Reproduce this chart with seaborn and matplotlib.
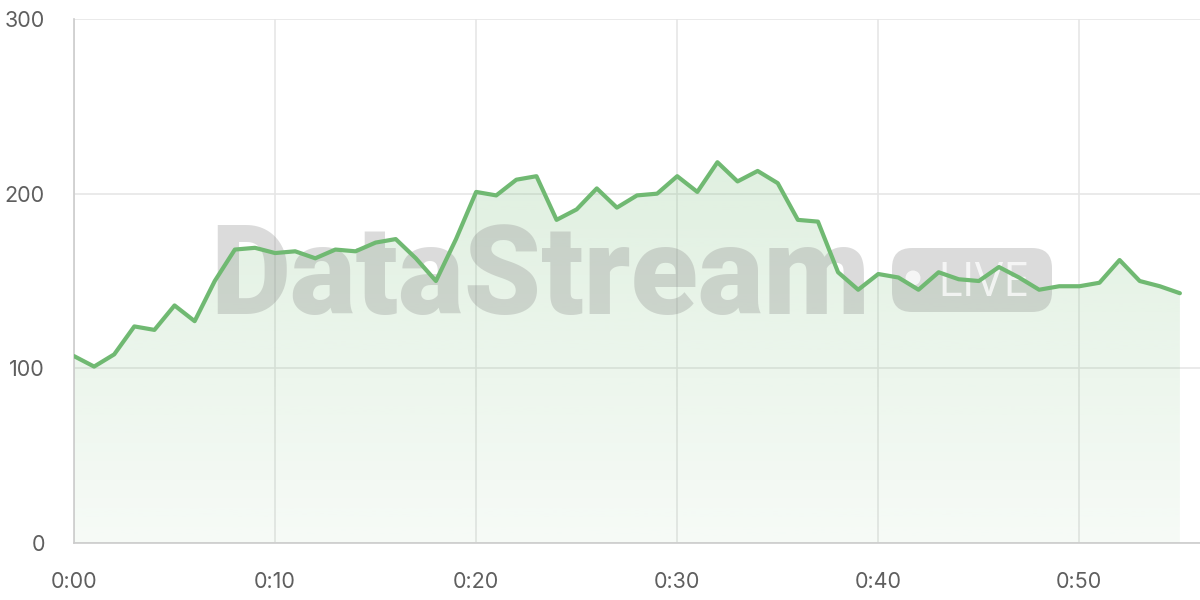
"""Live stream viewer count chart with DataStream watermark."""

import numpy as np
import pandas as pd
import matplotlib

matplotlib.use("Agg")
import matplotlib.pyplot as plt
import seaborn as sns
from matplotlib.patches import FancyBboxPatch, Ellipse

# minutes since start and value per minute
minutes = list(range(56))
values = [
    107, 101, 108, 124, 122, 136, 127, 150, 168, 169,
    166, 167, 163, 168, 167, 172, 174, 163, 150, 174,
    201, 199, 208, 210, 185, 191, 203, 192, 199, 200,
    210, 201, 218, 207, 213, 206, 185, 184, 155, 145,
    154, 152, 145, 155, 151, 150, 158, 152, 145, 147,
    147, 149, 162, 150, 147, 143,
]
x_ticks = [0, 10, 20, 30, 40, 50]
x_tick_labels = ["0:00", "0:10", "0:20", "0:30", "0:40", "0:50"]
y_ticks = [0, 100, 200, 300]

LINE = "#70b972"
W, H = 1200, 600
df = pd.DataFrame({"minute": minutes, "value": values})

sns.set_style("white")
plt.rcParams["font.family"] = ["Inter", "DejaVu Sans"]

fig = plt.figure(figsize=(12, 6), dpi=100)
ax = fig.add_axes([74 / W, 1 - 543 / H, 1126 / W, 524 / H])

# gradient fill under the line
poly = ax.fill_between(df["minute"], df["value"], 0, color="none", lw=0)
top = max(values)
grad = np.zeros((256, 1, 4))
grad[:, 0, :3] = matplotlib.colors.to_rgb(LINE)
grad[:, 0, 3] = np.linspace(0.22, 0.06, 256)
img = ax.imshow(grad, aspect="auto", extent=[0, 55, 0, top], origin="upper", zorder=1)
img.set_clip_path(poly.get_paths()[0], transform=ax.transData)

sns.lineplot(data=df, x="minute", y="value", ax=ax, color=LINE, lw=3, zorder=4)

ax.set_xlim(0, 56)
ax.set_ylim(0, 300)
ax.set_xticks(x_ticks)
ax.set_xticklabels(x_tick_labels)
ax.set_yticks(y_ticks)
ax.set_xlabel("")
ax.set_ylabel("")
ax.grid(True, color="#e6e6e6", lw=1.2)
ax.set_axisbelow(True)
for side in ["top", "right"]:
    ax.spines[side].set_visible(False)
for side in ["left", "bottom"]:
    ax.spines[side].set_color("#cccccc")
    ax.spines[side].set_linewidth(1.2)
ax.tick_params(axis="both", colors="#e6e6e6", length=12, width=1.2,
               labelcolor="#5f5f5f", labelsize=15.5)
ax.tick_params(axis="x", length=9, pad=12)
ax.tick_params(axis="y", length=15, pad=6)

# watermark, drawn under the line
ax.text(540 / W, 1 - 314 / H, "DataStream", fontsize=89, fontweight="heavy",
        color="#8a8a8a", alpha=0.3, ha="center", va="baseline", zorder=3,
        transform=fig.transFigure, family=["Roboto", "DejaVu Sans"])
badge = FancyBboxPatch((892, H - 312), 160, 64,
                       boxstyle="round,pad=0,rounding_size=20",
                       transform=None, facecolor="#8a8a8a", alpha=0.3,
                       edgecolor="none", zorder=3, clip_on=False)
ax.add_artist(badge)
dot = Ellipse((913, H - 278), 15, 15, transform=None, facecolor="white",
              alpha=0.75, edgecolor="none", zorder=3, clip_on=False)
ax.add_artist(dot)
ax.text(984 / W, 1 - 296 / H, "LIVE", fontsize=34, fontweight="normal",
        color="white", alpha=0.75, ha="center", va="baseline", zorder=3,
        transform=fig.transFigure, family=["Open Sans", "DejaVu Sans"])

fig.savefig("out.png", dpi=100)
